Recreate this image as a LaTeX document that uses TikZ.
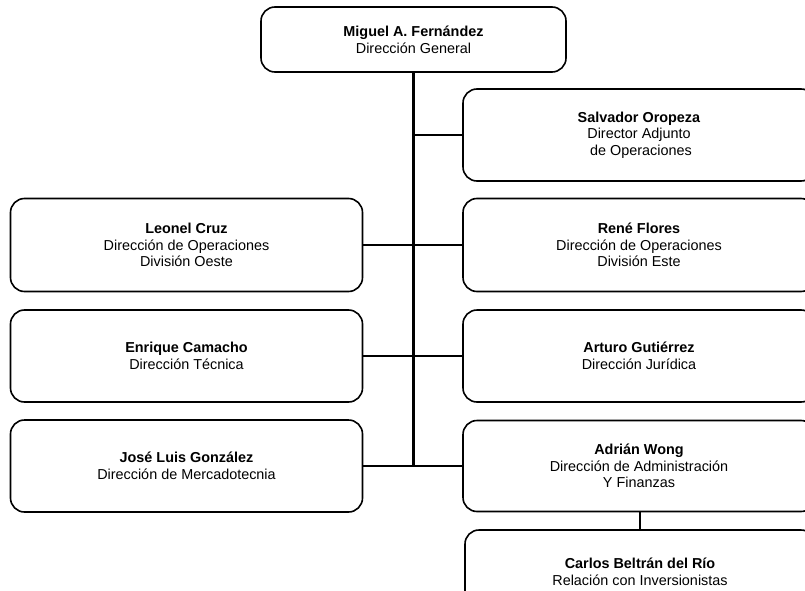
\documentclass[tikz,border=0pt]{standalone}
\usepackage{fontspec}
\setmainfont{Liberation Sans}

\begin{document}
\begin{tikzpicture}[x=1pt, y=-1pt,
    puesto/.style={shape=rectangle, draw, line width=1.6pt, rounded corners=14pt,
      minimum width=352pt, minimum height=93pt, inner sep=0pt, align=center,
      font=\fontsize{14.4}{16.6}\selectfont},
    enlace/.style={line width=1.6pt},
    tronco/.style={line width=2.6pt}]
    \useasboundingbox (0,0) rectangle (805,591);
    \clip (0,0) rectangle (805,591);

    \node at (413.5, 39.5) (MF) [puesto, minimum width=305pt, minimum height=65pt] {\textbf{Miguel A. Fernández}\\Dirección General};
    \node at (639, 135) (SO) [puesto, minimum height=92pt] {\textbf{Salvador Oropeza}\\Director Adjunto\\\hspace*{0.28em}de Operaciones};
    \node at (186.5, 245) (LC) [puesto] {\textbf{Leonel Cruz}\\Dirección de Operaciones\\División Oeste};
    \node at (639, 245) (RF) [puesto] {\textbf{René Flores}\\Dirección de Operaciones\\División Este};
    \node at (186.5, 356) (EC) [puesto, minimum height=92pt] {\textbf{Enrique Camacho}\\Dirección Técnica};
    \node at (639, 356) (AG) [puesto, minimum height=92pt] {\textbf{Arturo Gutiérrez}\\Dirección Jurídica};
    \node at (186.5, 466) (JLG) [puesto, minimum height=92pt] {\textbf{José Luis González}\\Dirección de Mercadotecnia};
    \node at (639, 466) (AW) [puesto, minimum height=91pt] {\textbf{Adrián Wong}\\Dirección de Administración\\Y Finanzas};
    \node at (640, 572) (CB) [puesto, minimum width=350pt, minimum height=84pt] {\textbf{Carlos Beltrán del Río}\\Relación con Inversionistas};

    \coordinate (fin) at (413.5, 466);
    \draw[tronco] (MF.south) -- (fin);
    \draw[enlace] (SO.west) -- (SO.west -| fin);
    \draw[enlace] (LC.east) -- (RF.west);
    \draw[enlace] (EC.east) -- (AG.west);
    \draw[enlace] (JLG.east) -- (AW.west);
    \draw[enlace] (AW.south -| CB.north) -- (CB.north);
  \end{tikzpicture}
\end{document}
